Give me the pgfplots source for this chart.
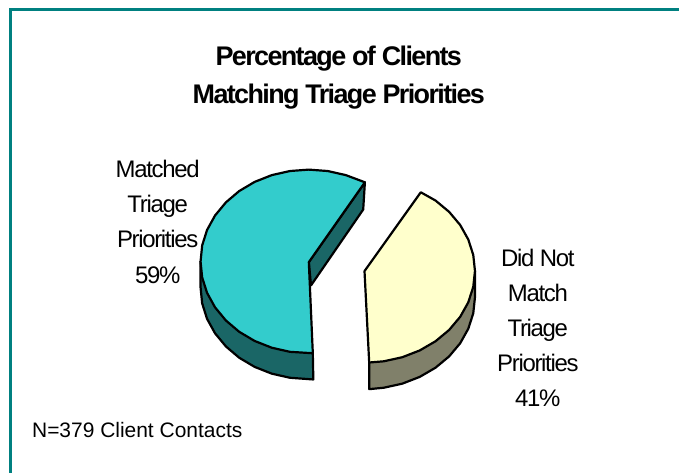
\documentclass[border=0pt]{standalone}
\usepackage{fontspec}
\setmainfont{Liberation Sans}
\newfontfamily\tight[LetterSpace=-5.5]{Liberation Sans}
\newfontfamily\ttight[LetterSpace=-6]{Liberation Sans}
\usepackage{pgfplots}
\pgfplotsset{compat=1.18}
\definecolor{framec}{HTML}{008080}
\definecolor{tealtop}{HTML}{33CCCC}
\definecolor{tealside}{HTML}{1A6666}
\definecolor{yeltop}{HTML}{FFFFCC}
\definecolor{yelside}{HTML}{80806A}
\begin{document}
\begin{tikzpicture}[x=1pt,y=1pt,
  ttl/.style={anchor=base,inner sep=0pt,font=\ttight\bfseries\fontsize{27}{27}\selectfont},
  lbl/.style={anchor=base,inner sep=0pt,font=\tight\fontsize{24}{24}\selectfont}]
\begin{axis}[
  anchor=south west, at={(0pt,0pt)},
  width=680pt, height=474pt, scale only axis,
  xmin=0, xmax=680, ymin=0, ymax=474, y dir=reverse,
  hide axis, clip=false]
% page
\addplot[draw=none, fill=white, forget plot] coordinates {(0,0)(680,0)(680,474)(0,474)} -- cycle;
% frame
\addplot[framec, line width=3pt, forget plot, line join=miter] coordinates {(10.5,474)(10.5,10)(680,10)};
% Matched: cut face
\addplot[fill=tealside, draw=black, line width=2.2pt, line join=round, forget plot] coordinates {
 (365.7,182.7)(364,210)(311.7,286)(309.5,262.7)} -- cycle;
% Matched: outer side
\addplot[fill=tealside, draw=black, line width=2.2pt, line join=round, forget plot] coordinates {
 (201,262)(201,288)(202.6,304)(207.5,319.5)(215.5,334)(226.4,347.2)(239.7,358.5)(255.2,367.7)(272.4,374.5)(290.6,378.6)(314,380.3)(313.5,354)} -- cycle;
% Matched: top
\addplot[fill=tealtop, draw=black, line width=2.2pt, line join=round, forget plot] coordinates {
 (365.7,182.7)(346.6,175.5)(328.4,171.4)(309.5,170)(290.6,171.4)(272.4,175.5)(255.2,182.3)(239.7,191.5)(226.4,202.8)(215.5,216)(207.5,230.5)(202.6,246)(201,262)(202.6,278)(207.5,293.5)(215.5,308)(226.4,321.2)(239.7,332.5)(255.2,341.7)(272.4,348.5)(290.6,352.6)(313.5,354)(309.5,262.7)} -- cycle;
% Did not match: outer side
\addplot[fill=yelside, draw=black, line width=2.2pt, line join=round, forget plot] coordinates {
 (370,363.3)(370,390)(384.6,388.6)(403.2,384.5)(420.7,377.7)(436.5,368.5)(450.1,357.2)(461.2,344)(469.3,329.5)(474.3,314)(476,298)(476,271.5)} -- cycle;
% Did not match: top
\addplot[fill=yeltop, draw=black, line width=2.2pt, line join=round, forget plot] coordinates {
 (365.3,271.7)(421.7,192.7)(436.5,201)(450.1,212.3)(461.2,225.5)(469.3,240)(474.3,255.5)(476,271.5)(474.3,287.5)(469.3,303)(461.2,317.5)(450.1,330.7)(436.5,342)(420.7,351.2)(403.2,358)(384.6,362.1)(370,363.3)} -- cycle;
% texts
\node[ttl] at (axis cs:339.5,66) {Percentage of Clients};
\node[ttl] at (axis cs:339.5,104) {Matching Triage Priorities};
\node[lbl] at (axis cs:158,178) {Matched};
\node[lbl] at (axis cs:158,213) {Triage};
\node[lbl] at (axis cs:158,248) {Priorities};
\node[lbl] at (axis cs:158,284) {59\%};
\node[lbl] at (axis cs:539,267) {Did Not};
\node[lbl] at (axis cs:539,302) {Match};
\node[lbl] at (axis cs:539,337) {Triage};
\node[lbl] at (axis cs:539,372) {Priorities};
\node[lbl] at (axis cs:539,407) {41\%};
\node[font=\fontsize{21}{21}\selectfont, anchor=base west, inner sep=0pt] at (axis cs:32,438) {N=379 Client Contacts};
\end{axis}
\end{tikzpicture}
\end{document}
